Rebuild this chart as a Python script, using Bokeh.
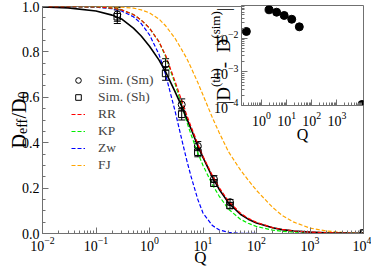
import math
from bokeh.plotting import figure
from bokeh.core.properties import value
from bokeh.models import (FixedTicker, Legend, LegendItem, Whisker, Range1d,
                          ColumnDataSource, TeeHead, GridBox, PrintfTickFormatter)
from bokeh.embed import file_html
from bokeh.resources import INLINE

# ---------------- data ----------------
Q_th = [0.01, 0.03, 0.1, 0.2, 0.3, 0.5, 0.7, 1, 1.5, 2, 3, 4, 5, 6, 8, 10, 15, 20,
        30, 50, 70, 100, 200, 300, 500, 1000, 2000, 5000, 10000]
D_exact = [0.998, 0.994, 0.98, 0.962, 0.945, 0.905, 0.87, 0.825, 0.765, 0.712, 0.625,
           0.56, 0.505, 0.46, 0.385, 0.335, 0.248, 0.195, 0.135, 0.085, 0.063, 0.046,
           0.025, 0.017, 0.011, 0.006, 0.003, 0.0015, 0.001]
D_RR = [1.0, 0.9995, 0.998, 0.993, 0.985, 0.965, 0.94, 0.905, 0.845, 0.785, 0.67, 0.585,
        0.52, 0.47, 0.395, 0.34, 0.255, 0.203, 0.142, 0.09, 0.067, 0.049, 0.026, 0.018,
        0.011, 0.006, 0.003, 0.0013, 0.0007]
D_KP = [1.0, 0.9995, 0.998, 0.993, 0.985, 0.965, 0.94, 0.905, 0.845, 0.78, 0.66, 0.565,
        0.49, 0.435, 0.355, 0.30, 0.215, 0.165, 0.107, 0.063, 0.045, 0.031, 0.015, 0.01,
        0.006, 0.003, 0.0015, 0.0006, 0.0003]
D_Zw = [1.0, 0.9995, 0.997, 0.99, 0.98, 0.955, 0.925, 0.875, 0.79, 0.70, 0.54, 0.415,
        0.32, 0.25, 0.15, 0.09, 0.035, 0.016, 0.005, 0.001, 0.0003, 0.0001, 0.0, 0.0,
        0.0, 0.0, 0.0, 0.0, 0.0]
D_FJ = [1.0, 1.0, 0.9995, 0.998, 0.997, 0.993, 0.985, 0.972, 0.945, 0.915, 0.86, 0.81,
        0.77, 0.73, 0.665, 0.61, 0.51, 0.445, 0.36, 0.28, 0.235, 0.19, 0.115, 0.08,
        0.05, 0.024, 0.011, 0.003, 0.0012]

Q_sim = [0.25, 2, 4, 8, 16, 32, 10000]
D_sm = [0.965, 0.745, 0.568, 0.385, 0.24, 0.138, 0.002]
D_sh = [0.955, 0.705, 0.525, 0.358, 0.222, 0.123, 0.002]
err_sm = [0.03, 0.025, 0.025, 0.02, 0.015, 0.012, 0.0]
err_sh = [0.03, 0.03, 0.025, 0.02, 0.015, 0.012, 0.0]

Q_diff = [0.25, 2, 4, 8, 16, 32, 10000]
D_diff = [0.016, 0.071, 0.060, 0.048, 0.037, 0.022, 1.07e-4]

x_major = [1e-2, 1e-1, 1e0, 1e1, 1e2, 1e3, 1e4]
y_major = [0.0, 0.2, 0.4, 0.6, 0.8, 1.0]
ix_major = [1e0, 1e1, 1e2, 1e3]
iy_major = [1e-4, 1e-3, 1e-2]

FONT = "Liberation Serif"
AX = "#707070"
W, H = 371, 269

# Times-like advance widths (em) for building composite labels
ADV = {'|': 0.2, 'D': 0.722, '(': 0.333, ')': 0.333, 't': 0.278, 'h': 0.5, 's': 0.389,
       'i': 0.278, 'm': 0.778, ' ': 0.25, '-': 0.333, 'e': 0.444, 'f': 0.333, '/': 0.278,
       '0': 0.5}


def tw(txt, size):
    return sum(ADV.get(c, 0.5) for c in txt) * size


def style_axis(ax, size="14px"):
    ax.axis_line_color = AX
    ax.major_tick_line_color = AX
    ax.minor_tick_line_color = AX
    ax.major_tick_in = 6
    ax.major_tick_out = 0
    ax.minor_tick_in = 3
    ax.minor_tick_out = 0
    ax.major_label_text_font = FONT
    ax.major_label_text_font_size = size
    ax.major_label_text_color = "black"


# ---------------- main plot ----------------
p = figure(frame_width=321, frame_height=227, x_axis_type="log",
           x_range=(1e-2, 1e4), y_range=(0, 1),
           output_backend="svg", toolbar_location=None,
           min_border_left=42, min_border_right=8, min_border_top=6, min_border_bottom=36)
p.frame_align = False
p.grid.visible = False
p.outline_line_color = AX
p.background_fill_color = "white"

p.xaxis.ticker = FixedTicker(ticks=x_major,
                             minor_ticks=[m * 10.0 ** k for k in range(-2, 4) for m in range(2, 10)])
p.yaxis.ticker = FixedTicker(ticks=y_major, minor_ticks=[0.05 * i for i in range(21)])
p.yaxis.formatter = PrintfTickFormatter(format="%.1f")
style_axis(p.xaxis[0])
style_axis(p.yaxis[0])
p.xaxis.major_label_standoff = 3
p.yaxis.major_label_standoff = 3

src_th = ColumnDataSource(dict(q=Q_th, ex=D_exact, rr=D_RR, kp=D_KP, zw=D_Zw, fj=D_FJ))
r_fj = p.line("q", "fj", source=src_th, line_color="#ffa500", line_width=1.2, line_dash="4 2")
r_zw = p.line("q", "zw", source=src_th, line_color="#0000ff", line_width=1.2, line_dash="4 2")
r_kp = p.line("q", "kp", source=src_th, line_color="#00ee00", line_width=1.2, line_dash="4 2")
r_ex = p.line("q", "ex", source=src_th, line_color="black", line_width=1.6)
r_rr = p.line("q", "rr", source=src_th, line_color="#ff0000", line_width=1.2, line_dash="4 2")

src_sim = ColumnDataSource(dict(
    q=Q_sim, sm=D_sm, sh=D_sh,
    sm_up=[a + b for a, b in zip(D_sm, err_sm)], sm_lo=[a - b for a, b in zip(D_sm, err_sm)],
    sh_up=[a + b for a, b in zip(D_sh, err_sh)], sh_lo=[a - b for a, b in zip(D_sh, err_sh)]))
for up, lo in (("sm_up", "sm_lo"), ("sh_up", "sh_lo")):
    p.add_layout(Whisker(base="q", upper=up, lower=lo, source=src_sim, dimension="height",
                         line_color="black", line_width=1,
                         upper_head=TeeHead(size=7, line_color="black", line_width=1),
                         lower_head=TeeHead(size=7, line_color="black", line_width=1)))
r_sm = p.scatter("q", "sm", source=src_sim, marker="circle", size=7, fill_alpha=0,
                 line_color="black", line_width=1)
r_sh = p.scatter("q", "sh", source=src_sim, marker="square", size=6.5, fill_alpha=0,
                 line_color="black", line_width=1)

legend = Legend(items=[LegendItem(label="Sim. (Sm)", renderers=[r_sm]),
                       LegendItem(label="Sim. (Sh)", renderers=[r_sh]),
                       LegendItem(label="RR", renderers=[r_rr]),
                       LegendItem(label="KP", renderers=[r_kp]),
                       LegendItem(label="Zw", renderers=[r_zw]),
                       LegendItem(label="FJ", renderers=[r_fj])],
                location=(29, 60), padding=0, margin=0, spacing=1,
                glyph_width=14, glyph_height=14, label_height=14, label_standoff=13,
                border_line_alpha=0, background_fill_alpha=0,
                label_text_font=FONT, label_text_font_size="13.5px")
p.add_layout(legend)

# ---------------- inset ----------------
ins = figure(frame_width=122, frame_height=100, x_axis_type="log", y_axis_type="log",
             x_range=(0.16, 1.15e4), y_range=(1e-4, 0.095),
             output_backend="svg", toolbar_location=None,
             min_border_left=36, min_border_right=8, min_border_top=5, min_border_bottom=36,
             border_fill_alpha=0, background_fill_color="white")
ins.frame_align = False
ins.margin = (0, 0, 0, 205)
ins.grid.visible = False
ins.outline_line_color = AX
ins.xaxis.ticker = FixedTicker(ticks=ix_major,
                               minor_ticks=[m * 10.0 ** k for k in range(-1, 4) for m in range(2, 10)] + [1e4])
ins.yaxis.ticker = FixedTicker(ticks=iy_major,
                               minor_ticks=[m * 10.0 ** k for k in range(-4, -1) for m in range(2, 10)])
style_axis(ins.xaxis[0])
style_axis(ins.yaxis[0])
ins.xaxis.major_label_standoff = 6
ins.yaxis.major_label_standoff = 3

ins.scatter(Q_diff, D_diff, marker="circle", size=8, fill_color="black", line_color="black")

# ---------------- text overlays (pixel coordinates, y measured up from the bottom) ----------------
overlays = []


def new_overlay():
    f = figure(frame_width=W, frame_height=H, x_range=Range1d(0, W), y_range=Range1d(0, H),
               output_backend="svg", toolbar_location=None, title=None,
               x_axis_location=None, y_axis_location=None,
               min_border=0, border_fill_alpha=0, background_fill_alpha=0,
               outline_line_alpha=0)
    f.frame_align = False
    f.grid.visible = False
    overlays.append(f)
    return f


def add_text(f, txt, size, x, y_page, angle=0.0, align="left", baseline="alphabetic"):
    f.text(x=[x], y=[H - y_page], text=[txt], angle=angle, text_font=value(FONT),
           text_font_size=f"{size}px", text_align=align, text_baseline=baseline,
           text_color="black")


def stacked_label(parts, x0, y0):
    # one canvas per rotated piece so that every piece is placed on its own
    y = y0
    for txt, size, off in parts:
        add_text(new_overlay(), txt, size, x0 + off, y, angle=math.pi / 2)
        y -= tw(txt, size)


stacked_label([("D", 20, 0), ("eff", 14, 4), ("/D", 20, 0), ("0", 14, 4)], 18, 148)
stacked_label([("|", 19, 0), ("D", 19, 0), ("(th)", 13, -8), (" - ", 19, 0),
               ("D", 19, 0), ("(sim)", 13, -8), ("|", 19, 0)], 223, 104)
tq = new_overlay()
add_text(tq, "Q", 17, 200, 257, align="center", baseline="middle")
add_text(tq, "Q", 16, 302, 134, align="center", baseline="middle")

grid = GridBox(children=[(p, 0, 0), (ins, 0, 0)] + [(f, 0, 0) for f in overlays])

open("out.html", "w").write(file_html(grid, INLINE))
